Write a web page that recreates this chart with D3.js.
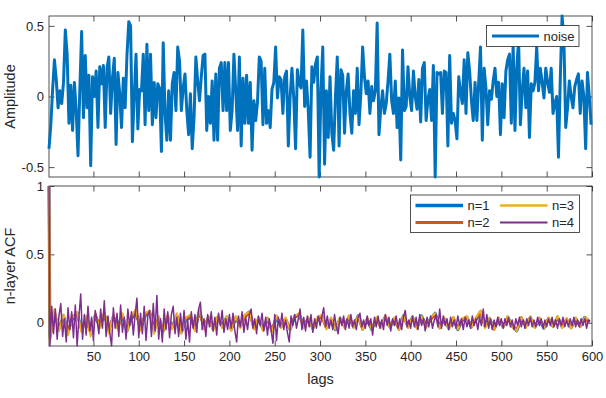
<!DOCTYPE html>
<html>
<head>
<meta charset="utf-8">
<script src="https://cdn.jsdelivr.net/npm/d3@7"></script>
<style>
  html, body { margin: 0; padding: 0; background: #fff; }
  svg { display: block; font-family: "Liberation Sans", Arial, Helvetica, sans-serif; }
</style>
</head>
<body>
<svg id="chart" width="606" height="398"></svg>
<script>
// ---------------- DATA ----------------
const xTicks = [50, 100, 150, 200, 250, 300, 350, 400, 450, 500, 550, 600];
const noiseYTicks = [-0.5, 0, 0.5];
const acfYTicks = [0, 0.5, 1];
const noiseLabel = "noise";
const seriesNames = ["n=1", "n=2", "n=3", "n=4"];

// noise samples at lags 1, 3, 5, ... 599
const noiseStart = 1, noiseStep = 2;
const noise = [
 -0.37,-0.2,0.05,0.26,0.12,-0.08,0.04,-0.05,0.1,0.47,0.3,-0.19,0.08,-0.24,0.1,-0.1,-0.42,0.05,0.46,-0.15,
 0.29,-0.08,0.15,-0.49,0.14,0.0,0.18,-0.22,0.21,0.09,0.22,-0.22,0.2,0.28,-0.12,0.13,0.27,-0.34,0.17,0.02,
 -0.22,0.13,-0.08,0.29,0.53,0.5,-0.32,0.0,0.3,-0.23,0.05,
 0.04,0.3,-0.2,0.37,-0.1,0.3,-0.2,0.1,-0.15,0.09,0.06,-0.39,0.38,-0.12,-0.31,0.04,-0.31,0.09,0.17,-0.1,
 0.35,0.25,-0.1,0.06,0.16,-0.1,-0.27,0.02,-0.37,-0.15,0.28,0.11,-0.03,0.14,0.29,0.3,-0.24,0.0,-0.19,0.11,
 -0.31,0.16,-0.31,0.2,0.24,-0.1,0.24,-0.1,0.24,-0.24,
 -0.1,0.3,0.04,-0.24,0.28,-0.35,0.13,-0.19,0.15,-0.19,0.1,-0.38,-0.03,-0.17,-0.04,0.28,0.25,-0.2,0.2,-0.19,
 -0.1,-0.22,0.05,0.1,0.35,-0.01,0.14,0.12,-0.12,0.14,0.18,-0.35,0.0,0.2,-0.01,-0.37,0.19,0.09,0.06,0.47,
 -0.07,0.11,-0.1,-0.43,0.21,0.1,0.23,0.28,-0.57,0.05,
 0.35,-0.48,0.04,-0.29,0.14,-0.26,-0.38,0.0,0.28,-0.35,0.19,0.15,-0.26,0.04,0.16,-0.12,-0.26,0.04,-0.12,0.2,
 -0.2,0.02,0.35,0.14,0.02,0.11,-0.12,0.07,-0.03,0.04,0.52,-0.27,-0.08,0.04,-0.12,-0.05,0.11,0.3,-0.03,-0.12,
 0.11,-0.22,-0.01,-0.45,0.33,-0.1,-0.07,0.21,0.0,
 -0.1,0.18,0.0,-0.09,0.12,-0.18,0.2,0.24,-0.17,-0.02,0.05,-0.17,0.22,-0.57,0.17,0.16,0.17,-0.12,0.18,0.17,
 -0.35,0.29,-0.19,-0.12,-0.17,-0.3,0.14,0.03,-0.05,0.26,-0.12,0.31,0.18,-0.03,-0.17,0.1,-0.17,0.1,0.35,-0.31,
 0.2,0.06,-0.2,0.04,-0.02,0.11,0.2,0.0,0.1,-0.27,
 0.09,-0.15,0.18,0.26,0.3,-0.19,0.37,-0.24,0.2,0.4,-0.2,0.04,0.2,-0.08,0.18,-0.29,0.09,0.04,0.1,0.35,
 0.04,0.2,0.1,-0.01,0.2,0.1,0.03,0.2,-0.12,-0.05,0.0,-0.43,0.12,0.57,0.4,-0.22,-0.08,0.11,0.0,-0.08,
 0.07,0.12,0.16,-0.12,0.11,0.0,-0.37,0.17,0.0,-0.2
];

// ACF: first value is lag 1, following values start at lag 2 with the given step
const acfStep123 = 5;   // lags 1, 2, 7, 12, ... 597
const acfStep4 = 2;     // lags 1, 2, 4, 6, ... 598
const acf1 = [1,
 -0.1,0.06,-0.04,0.05,-0.06,0.03,0.07,-0.05,0.04,-0.06,0.05,-0.03,0.06,-0.05,0.04,-0.02,0.05,-0.06,0.03,0.07,
 -0.04,0.05,0.08,-0.05,0.03,-0.06,0.04,-0.03,0.05,-0.07,0.02,0.04,-0.05,0.09,-0.03,0.04,-0.04,0.03,-0.02,0.04,
 -0.05,0.03,-0.02,0.05,0.08,-0.03,0.02,-0.04,0.03,-0.06,0.04,-0.03,0.02,-0.05,0.04,0.06,-0.02,0.03,-0.04,0.02,
 0.05,-0.03,0.02,-0.05,0.03,-0.02,0.04,-0.03,0.05,-0.04,0.02,-0.05,0.03,-0.02,0.04,-0.03,0.02,-0.04,0.05,-0.02,
 0.04,-0.03,0.05,-0.02,0.03,0.07,-0.03,0.02,-0.04,0.03,-0.05,0.02,0.04,-0.03,0.02,0.08,-0.02,0.03,-0.04,0.02,
 -0.03,0.04,-0.02,-0.06,0.03,-0.02,0.04,-0.03,0.02,-0.04,0.03,-0.02,0.04,-0.03,0.02,-0.03,0.03,-0.02,0.04,0.01
];
const acf2 = [1,
 -0.12,0.08,-0.05,0.04,-0.07,0.05,0.06,-0.06,0.03,-0.08,0.06,-0.02,0.07,-0.06,0.05,-0.04,0.06,-0.05,0.04,0.08,
 -0.05,0.06,0.07,-0.06,0.04,-0.05,0.05,-0.04,0.06,-0.06,0.03,0.05,-0.04,0.08,-0.04,0.03,-0.05,0.04,-0.03,0.03,
 -0.04,0.04,-0.03,0.04,0.07,-0.04,0.03,-0.05,0.02,-0.05,0.05,-0.02,0.03,-0.04,0.05,0.05,-0.03,0.02,-0.03,0.03,
 0.04,-0.04,0.03,-0.04,0.02,-0.03,0.05,-0.02,0.04,-0.05,0.03,-0.04,0.02,-0.03,0.05,-0.02,0.03,-0.05,0.04,-0.03,
 0.03,-0.04,0.04,-0.03,0.02,0.06,-0.04,0.03,-0.03,0.04,-0.04,0.03,0.03,-0.02,0.03,0.07,-0.03,0.02,-0.05,0.03,
 -0.02,0.03,-0.03,-0.05,0.04,-0.03,0.03,-0.02,0.03,-0.03,0.02,-0.03,0.03,-0.02,0.03,-0.04,0.02,-0.03,0.03,0.0
];
const acf3 = [1,
 -0.14,0.1,-0.06,0.06,-0.09,0.04,0.08,-0.07,0.05,-0.1,0.07,-0.04,0.08,-0.08,0.06,-0.05,0.07,-0.07,0.05,0.1,
 -0.06,0.07,0.09,-0.08,0.05,-0.07,0.06,-0.05,0.07,-0.08,0.04,0.06,-0.06,0.1,-0.05,0.05,-0.06,0.05,-0.04,0.05,
 -0.06,0.05,-0.04,0.06,0.08,-0.05,0.04,-0.06,0.04,-0.07,0.05,-0.04,0.04,-0.06,0.05,0.07,-0.04,0.04,-0.05,0.04,
 0.06,-0.05,0.04,-0.05,0.04,-0.04,0.05,-0.04,0.05,-0.05,0.04,-0.05,0.04,-0.04,0.05,-0.04,0.04,-0.05,0.05,-0.04,
 0.05,-0.04,0.05,-0.04,0.04,0.07,-0.04,0.04,-0.05,0.04,-0.05,0.03,0.05,-0.04,0.04,0.09,-0.04,0.04,-0.05,0.04,
 -0.04,0.05,-0.03,-0.06,0.04,-0.04,0.05,-0.04,0.04,-0.04,0.04,-0.03,0.05,-0.04,0.03,-0.04,0.04,-0.03,0.04,0.02
];
const acf4 = [1,
 -0.17,0.12,-0.08,0.1,-0.12,0.05,0.14,-0.1,0.03,-0.14,0.11,-0.05,0.08,-0.11,0.13,-0.17,0.04,0.21,-0.12,0.06,
 -0.09,0.12,-0.06,0.04,-0.13,0.09,0.02,-0.08,0.1,-0.04,0.16,-0.1,0.05,-0.07,-0.17,0.11,-0.04,0.07,-0.1,0.13,
 -0.07,0.04,-0.12,0.1,-0.02,0.08,-0.09,0.06,0.18,-0.11,
 0.07,-0.08,0.12,-0.13,0.05,0.09,-0.1,0.14,-0.06,0.2,-0.12,0.03,-0.14,0.1,-0.05,0.08,-0.11,0.06,0.12,-0.08,
 0.04,-0.1,0.07,-0.06,0.09,-0.12,0.02,-0.14,0.08,-0.04,0.06,-0.07,0.1,0.15,-0.05,0.03,-0.1,0.06,-0.03,0.08,
 -0.06,0.04,-0.09,0.07,-0.02,0.09,-0.07,0.03,-0.05,0.06,
 -0.04,0.07,-0.06,-0.14,0.05,-0.03,0.08,-0.07,0.04,-0.05,0.06,0.1,-0.04,0.03,-0.08,0.05,-0.02,0.07,-0.06,0.04,
 -0.09,0.03,-0.05,-0.15,0.06,-0.13,0.04,-0.03,0.07,-0.05,0.02,-0.07,-0.14,0.05,-0.02,0.06,-0.04,0.03,0.1,-0.05,
 0.04,-0.06,0.05,-0.03,0.06,-0.07,0.03,-0.04,0.05,-0.02,
 0.04,0.11,-0.03,0.05,-0.04,0.02,-0.05,0.06,-0.03,-0.08,0.04,-0.02,0.05,-0.05,0.03,-0.04,0.06,-0.03,0.02,-0.05,
 0.04,0.07,-0.03,0.02,-0.04,0.05,-0.02,0.03,-0.09,0.04,-0.03,0.05,-0.04,0.02,-0.05,0.06,-0.02,0.04,-0.06,0.03,
 -0.02,0.05,-0.04,0.03,-0.05,0.04,0.09,-0.03,0.02,-0.04,
 0.05,-0.03,0.04,-0.05,0.06,-0.02,0.03,-0.06,0.04,-0.03,0.05,-0.04,0.02,0.06,-0.03,0.1,-0.04,0.05,-0.02,0.03,
 -0.05,0.04,-0.03,0.02,-0.04,0.05,-0.02,0.03,-0.05,0.04,-0.03,0.02,-0.04,0.05,-0.02,0.03,-0.05,0.04,-0.02,0.1,
 -0.03,0.06,-0.04,0.03,-0.05,0.02,-0.03,0.04,-0.02,0.03,
 -0.04,0.03,-0.02,0.04,-0.03,0.02,-0.05,0.03,-0.02,0.04,-0.03,0.02,-0.04,0.03,-0.02,0.04,-0.03,0.02,-0.03,0.04,
 -0.02,0.03,-0.04,0.02,-0.03,0.03,-0.02,0.04,-0.03,0.02,-0.04,0.03,-0.02,0.04,-0.03,0.02,-0.03,0.03,-0.02,0.04,
 -0.03,0.02,-0.03,0.03,-0.02,0.03,-0.04,0.02,0.01
];
const acfSeries = [acf1, acf2, acf3, acf4];
const acfSteps = [acfStep123, acfStep123, acfStep123, acfStep4];

// ---------------- STYLE ----------------
const colors = ["#0072BD", "#D95319", "#EDB120", "#7E2F8E"];
const widths = [3, 2.5, 2, 1.5];
const axisColor = "#262626";

// ---------------- LAYOUT ----------------
const svg = d3.select("#chart");
const L = 49, R = 592;
const top1 = 16, bot1 = 177;
const top2 = 186, bot2 = 346;
const tickLen = 5.5;

const x = d3.scaleLinear().domain([1, 600]).range([L, R]);
const y1 = d3.scaleLinear().domain([-0.57, 0.57]).range([bot1, top1]);
const y2 = d3.scaleLinear().domain([-0.17, 1]).range([bot2, top2]);

function frame(yScale, t, b, yTicks, showXLabels, yFmt) {
  const g = svg.append("g");
  const xb = g.append("g").attr("transform", `translate(0,${b})`)
    .call(d3.axisBottom(x).tickValues(xTicks).tickSizeInner(-tickLen).tickSizeOuter(0)
      .tickFormat(showXLabels ? d3.format("d") : () => ""));
  xb.selectAll("text").attr("dy", "0").attr("y", 14.5);
  g.append("g").attr("transform", `translate(0,${t})`)
    .call(d3.axisTop(x).tickValues(xTicks).tickSizeInner(-tickLen).tickSizeOuter(0).tickFormat(() => ""));
  const yl = g.append("g").attr("transform", `translate(${L},0)`)
    .call(d3.axisLeft(yScale).tickValues(yTicks).tickSizeInner(-tickLen).tickSizeOuter(0).tickFormat(yFmt));
  yl.selectAll("text").attr("x", -5);
  g.append("g").attr("transform", `translate(${R},0)`)
    .call(d3.axisRight(yScale).tickValues(yTicks).tickSizeInner(-tickLen).tickSizeOuter(0).tickFormat(() => ""));
  g.selectAll(".domain").remove();
  g.selectAll(".tick line").attr("stroke", axisColor).attr("stroke-width", 0.8);
  g.selectAll("text").attr("fill", axisColor).style("font-size", "13px")
    .style("font-family", '"Liberation Sans", Arial, sans-serif');
  return g;
}
function box(t, b) {
  svg.append("rect").attr("x", L).attr("y", t).attr("width", R - L).attr("height", b - t)
    .attr("fill", "none").attr("stroke", axisColor).attr("stroke-width", 0.8);
}

const fmtY = v => v === 0 ? "0" : String(v);

// ---------- top panel ----------
frame(y1, top1, bot1, noiseYTicks, false, fmtY);
box(top1, bot1);
const noiseLine = d3.line()
  .x((d, i) => x(noiseStart + i * noiseStep))
  .y(d => y1(d));
svg.append("path").datum(noise)
  .attr("d", noiseLine).attr("fill", "none")
  .attr("stroke", colors[0]).attr("stroke-width", 3).attr("stroke-linejoin", "round");

// legend top
{
  const lg = svg.append("g");
  lg.append("rect").attr("x", 486.5).attr("y", 25.5).attr("width", 92.5).attr("height", 21)
    .attr("fill", "#fff").attr("stroke", axisColor).attr("stroke-width", 0.8);
  lg.append("line").attr("x1", 492).attr("x2", 539).attr("y1", 36).attr("y2", 36)
    .attr("stroke", colors[0]).attr("stroke-width", 3);
  lg.append("text").attr("x", 543.5).attr("y", 40.5).text(noiseLabel)
    .attr("fill", axisColor).style("font-size", "13px");
}

svg.append("text").attr("transform", `translate(15,${(top1 + bot1) / 2}) rotate(-90)`)
  .attr("text-anchor", "middle").attr("fill", axisColor).style("font-size", "14.5px").text("Amplitude");

// ---------- bottom panel ----------
frame(y2, top2, bot2, acfYTicks, true, fmtY);
box(top2, bot2);
const acfG = svg.append("g");
acfSeries.forEach((s, k) => {
  const step = acfSteps[k];
  const line = d3.line()
    .x((d, i) => x(i === 0 ? 1 : 2 + (i - 1) * step))
    .y(d => y2(d));
  acfG.append("path").datum(s).attr("d", line).attr("fill", "none")
    .attr("stroke", colors[k]).attr("stroke-width", widths[k]).attr("stroke-linejoin", "round");
});

// legend bottom
{
  const lg = svg.append("g");
  lg.append("rect").attr("x", 410.5).attr("y", 195).attr("width", 169).attr("height", 37.5)
    .attr("fill", "#fff").attr("stroke", axisColor).attr("stroke-width", 0.8);
  const pos = [[415.5, 205.5], [415.5, 222.5], [500, 205.5], [500, 222.5]];
  seriesNames.forEach((n, k) => {
    const [px, py] = pos[k];
    lg.append("line").attr("x1", px).attr("x2", px + 47.5).attr("y1", py).attr("y2", py)
      .attr("stroke", colors[k]).attr("stroke-width", widths[k] + 0.5);
    lg.append("text").attr("x", px + 52).attr("y", py + 4.5).text(n)
      .attr("fill", axisColor).style("font-size", "13px");
  });
}

svg.append("text").attr("transform", `translate(15,${(top2 + bot2) / 2}) rotate(-90)`)
  .attr("text-anchor", "middle").attr("fill", axisColor).style("font-size", "14.5px").text("n-layer ACF");
svg.append("text").attr("x", (L + R) / 2).attr("y", 384)
  .attr("text-anchor", "middle").attr("fill", axisColor).style("font-size", "14.5px").text("lags");
</script>
</body>
</html>
